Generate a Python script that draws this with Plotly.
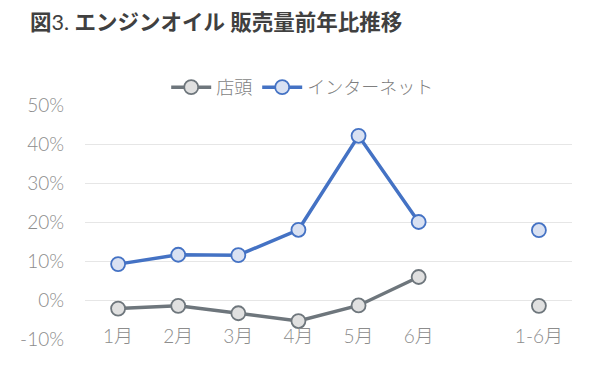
import plotly.graph_objects as go

categories = ["1月", "2月", "3月", "4月", "5月", "6月", " ", "1-6月"]
store = [-2.2, -1.5, -3.4, -5.4, -1.4, 5.9, None, -1.5]
internet = [9.2, 11.6, 11.5, 18.0, 42.1, 20.0, None, 17.9]
y_ticks = [-10, 0, 10, 20, 30, 40, 50]
y_labels = ["-10%", "0%", "10%", "20%", "30%", "40%", "50%"]

FONT = 'Lato, "Noto Sans CJK JP", sans-serif'
GRAY_TXT = "#8c8c8c"

fig = go.Figure()
fig.add_trace(go.Scatter(
    x=categories, y=store, name="店頭", mode="lines+markers",
    line=dict(color="#6e767c", width=3.5),
    marker=dict(size=14, color="#e0e0e0", line=dict(color="#6e767c", width=1.8)),
    connectgaps=False,
))
fig.add_trace(go.Scatter(
    x=categories, y=internet, name="インターネット", mode="lines+markers",
    line=dict(color="#4472c4", width=3.5),
    marker=dict(size=14, color="#d9e1f2", line=dict(color="#4472c4", width=1.8)),
    connectgaps=False,
))

fig.update_layout(
    width=600, height=376,
    margin=dict(l=85, r=28, t=105, b=37),
    paper_bgcolor="white", plot_bgcolor="white",
    font=dict(family=FONT, color=GRAY_TXT, size=18),
    title=dict(
        text="<b>図</b>3. <b>エンジンオイル 販売量前年比推移</b>",
        x=30 / 600, xanchor="left", xref="container",
        y=1 - 22 / 376, yanchor="middle", yref="container",
        font=dict(size=21.5, color="#404040", family=FONT),
    ),
    legend=dict(
        orientation="h", x=0.446, xanchor="center", y=1.075, yanchor="middle",
        font=dict(size=18, color="#7f7f7f", weight=300), itemwidth=40,
        bgcolor="rgba(0,0,0,0)",
    ),
    showlegend=True,
    xaxis=dict(
        type="category", categoryorder="array", categoryarray=categories,
        tickvals=[c for c in categories if c.strip()],
        showgrid=False, zeroline=False, showline=False, ticks="",
        anchor="free", position=0.07,
        tickfont=dict(size=19, color=GRAY_TXT, weight=300),
    ),
    yaxis=dict(
        range=[-10, 50], tickvals=y_ticks, ticktext=y_labels,
        showgrid=True, gridcolor="#e6e6e6", gridwidth=1,
        zeroline=False, showline=False, ticks="",
        tickfont=dict(size=19, color=GRAY_TXT, weight=300), ticklabelstandoff=20,
    ),
)

fig.write_html(
    "out.html",
    config={"displayModeBar": False},
    post_script="document.body.style.margin='0';document.body.style.padding='0';",
)
